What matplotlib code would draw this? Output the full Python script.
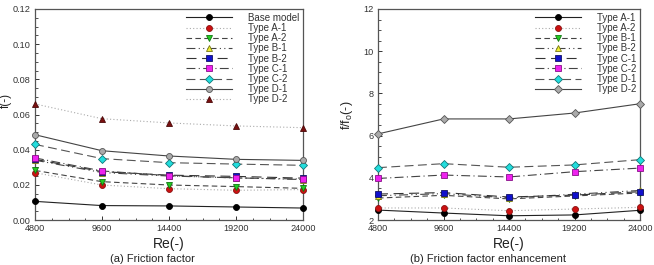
import matplotlib
matplotlib.use("Agg")
import matplotlib.pyplot as plt
from matplotlib.ticker import AutoMinorLocator

plt.rcParams['font.family'] = ['Liberation Sans', 'DejaVu Sans']

re_vals = [4800, 9600, 14400, 19200, 24000]
re_labels = ['4800', '9600', '14400', '19200', '24000']

# (a) friction factor
f_labels = ['Base model', 'Type A-1', 'Type A-2', 'Type B-1', 'Type B-2',
            'Type C-1', 'Type C-2', 'Type D-1', 'Type D-2']
f_base = [0.0106, 0.0082, 0.0080, 0.0074, 0.0068]
f_a1 = [0.0269, 0.0199, 0.0178, 0.0169, 0.0173]
f_a2 = [0.0282, 0.0218, 0.0199, 0.0190, 0.0180]
f_b1 = [0.0340, 0.0270, 0.0250, 0.0240, 0.0230]
f_b2 = [0.0345, 0.0275, 0.0255, 0.0248, 0.0238]
f_c1 = [0.0353, 0.0279, 0.0252, 0.0239, 0.0233]
f_c2 = [0.0430, 0.0349, 0.0326, 0.0318, 0.0311]
f_d1 = [0.0485, 0.0394, 0.0364, 0.0345, 0.0339]
f_d2 = [0.0660, 0.0576, 0.0552, 0.0535, 0.0525]
f_series = [f_base, f_a1, f_a2, f_b1, f_b2, f_c1, f_c2, f_d1, f_d2]

# (b) friction factor ratio f/fo
r_labels = ['Type A-1', 'Type A-2', 'Type B-1', 'Type B-2',
            'Type C-1', 'Type C-2', 'Type D-1', 'Type D-2']
r_a1 = [2.47, 2.33, 2.20, 2.24, 2.46]
r_a2 = [2.57, 2.57, 2.44, 2.52, 2.60]
r_b1 = [3.04, 3.17, 3.00, 3.14, 3.28]
r_b2 = [3.15, 3.25, 3.05, 3.22, 3.40]
r_c1 = [3.23, 3.30, 3.09, 3.18, 3.34]
r_c2 = [3.97, 4.13, 4.04, 4.29, 4.46]
r_d1 = [4.48, 4.67, 4.50, 4.61, 4.86]
r_d2 = [6.08, 6.79, 6.79, 7.07, 7.51]
r_series = [r_a1, r_a2, r_b1, r_b2, r_c1, r_c2, r_d1, r_d2]

# styles: (linecolor, linestyle, marker, markerfacecolor, markeredgecolor)
styles = [
    ('#222222', '-', 'o', 'black', 'black'),
    ('#aaaaaa', (0, (1, 2)), 'o', '#cc1111', '#881111'),
    ('#444444', (0, (5, 3)), 'v', '#22cc22', '#117711'),
    ('#444444', (0, (8, 3, 1, 3, 1, 3)), '^', '#eeee33', '#777711'),
    ('#333333', (0, (9, 5)), 's', '#1111cc', '#111166'),
    ('#444444', (0, (8, 3, 1, 3)), 's', '#ee22ee', '#881188'),
    ('#555555', (0, (8, 4)), 'D', '#22dddd', '#117777'),
    ('#444444', '-', 'o', '#aaaaaa', '#555555'),
    ('#aaaaaa', (0, (1, 2)), '^', '#7a1010', '#4a0808'),
]
r_styles = styles[:7] + [('#444444', '-', 'D', '#aaaaaa', '#555555')]

fig = plt.figure(figsize=(6.54, 2.65), dpi=100)
ax1 = fig.add_axes([35/654, 1-220/265, 268/654, 211/265])
ax2 = fig.add_axes([378/654, 1-220/265, 262/654, 211/265])

def plot_panel(ax, series, labels, stys):
    for y, lab, (lc, ls, mk, mfc, mec) in zip(series, labels, stys):
        ms = 4.3 if mk != 'D' else 3.8
        ax.plot(re_vals, y, color=lc, linestyle=ls, linewidth=0.8,
                marker=mk, markersize=ms, markerfacecolor=mfc,
                markeredgecolor=mec, markeredgewidth=0.6, label=lab,
                clip_on=False, zorder=3)
    ax.set_xlim(4800, 24000)
    ax.set_xticks(re_vals)
    ax.set_xticklabels(re_labels)
    ax.xaxis.set_minor_locator(AutoMinorLocator(4))
    ax.yaxis.set_minor_locator(AutoMinorLocator(4))
    ax.tick_params(which='both', direction='in', top=False, right=False,
                   labelsize=6.6, colors='#333333', pad=3)
    ax.tick_params(which='major', length=3, width=0.7)
    ax.tick_params(which='minor', length=1.8, width=0.6)
    for sp in ax.spines.values():
        sp.set_color('#555555')
        sp.set_linewidth(0.9)
    ax.set_xlabel('Re(-)', fontsize=10, labelpad=3, color='#222222')
    leg = ax.legend(loc='upper right', fontsize=7, frameon=False,
                    handlelength=4.8, handletextpad=1.6, labelspacing=0.02,
                    borderaxespad=0.1, borderpad=0.3)
    for t in leg.get_texts():
        t.set_color('#333333')

plot_panel(ax1, f_series, f_labels, styles)
ax1.set_ylim(0, 0.12)
ax1.set_yticks([0.00, 0.02, 0.04, 0.06, 0.08, 0.10, 0.12])
ax1.set_yticklabels(['0.00', '0.02', '0.04', '0.06', '0.08', '0.10', '0.12'])

plot_panel(ax2, r_series, r_labels, r_styles)
ax2.set_ylim(2, 12)
ax2.set_yticks([2, 4, 6, 8, 10, 12])

fig.text(0.0, 1-100/265, 'f(-)', rotation=90, ha='left', va='center',
         fontsize=8.5, color='#222222')
fig.text(339/654, 1-115/265, r'f/f$_\mathregular{o}$(-)', rotation=90,
         ha='left', va='center', fontsize=9, color='#222222')

fig.text(110/654, 1/265, '(a) Friction factor', ha='left', va='bottom',
         fontsize=8, color='#222222')
fig.text(410/654, 1/265, '(b) Friction factor enhancement', ha='left',
         va='bottom', fontsize=8, color='#222222')

fig.savefig('out.png', dpi=100)
